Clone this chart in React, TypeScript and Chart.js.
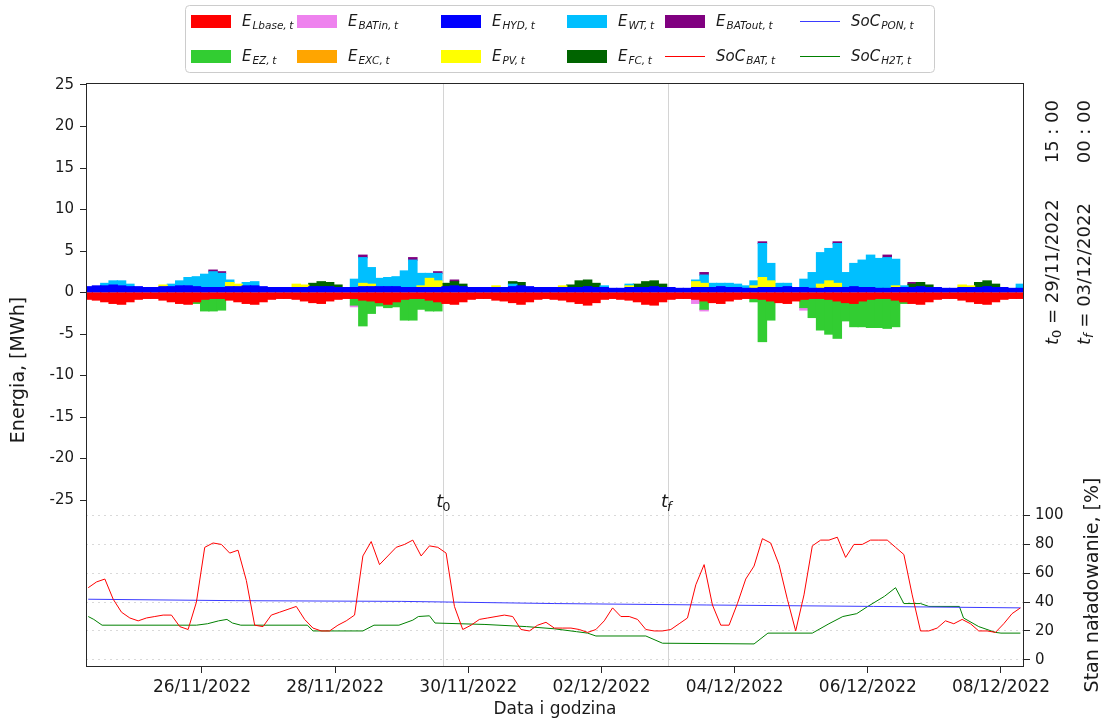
import React, { useEffect, useRef } from 'react';
import { Chart, registerables } from 'chart.js';

Chart.register(...registerables);

// Time axis: hours counted from 24/11/2022 00:00. Dense series are sampled every 3 h from 24/11 07:00.
const FIRST_HOUR = 7;
const STEP_HOURS = 3;

const xTickHours = [48, 96, 144, 192, 240, 288, 336];
const xTickLabels = ['26/11/2022', '28/11/2022', '30/11/2022', '02/12/2022', '04/12/2022', '06/12/2022', '08/12/2022'];
const yTicks = [-25, -20, -15, -10, -5, 0, 5, 10, 15, 20, 25];
const y2Ticks = [0, 20, 40, 60, 80, 100];

const t0Hour = 135; // 29/11/2022 15:00
const tfHour = 216; // 03/12/2022 00:00

// E_Lbase,t [MWh] (rows: days, samples at 01,04,07,10,13,16,19,22 h)
const eLbase = [
  -0.8, -0.9, -1.1, -1.3, -1.4, -1.1,
  -0.8, -0.7, -0.7, -0.9, -1.1, -1.3, -1.4, -1.1,
  -0.8, -0.7, -0.7, -0.9, -1.1, -1.3, -1.4, -1.1,
  -0.8, -0.7, -0.7, -0.8, -1.0, -1.2, -1.3, -1.0,
  -0.8, -0.7, -0.7, -0.9, -1.0, -1.2, -1.4, -1.1,
  -0.8, -0.7, -0.7, -0.9, -1.1, -1.3, -1.4, -1.1,
  -0.8, -0.7, -0.7, -0.9, -1.0, -1.2, -1.4, -1.1,
  -0.8, -0.7, -0.8, -0.9, -1.1, -1.3, -1.5, -1.2,
  -0.8, -0.7, -0.8, -0.9, -1.1, -1.4, -1.5, -1.1,
  -0.8, -0.7, -0.7, -0.8, -1.0, -1.2, -1.3, -1.0,
  -0.8, -0.7, -0.7, -0.8, -1.0, -1.2, -1.3, -1.0,
  -0.8, -0.7, -0.7, -0.8, -1.0, -1.2, -1.3, -1.0,
  -0.8, -0.7, -0.7, -0.9, -1.1, -1.3, -1.4, -1.1,
  -0.8, -0.7, -0.7, -0.9, -1.1, -1.3, -1.4, -1.1,
  -0.8, -0.7, -0.7,
];

// E_HYD,t [MWh]
const eHyd = [
  0.7, 0.8, 0.8, 0.9, 0.8, 0.7,
  0.7, 0.6, 0.6, 0.7, 0.7, 0.8, 0.8, 0.7,
  0.6, 0.6, 0.6, 0.7, 0.7, 0.8, 0.8, 0.7,
  0.6, 0.6, 0.6, 0.6, 0.6, 0.7, 0.7, 0.7,
  0.6, 0.6, 0.6, 0.7, 0.7, 0.7, 0.7, 0.7,
  0.6, 0.6, 0.6, 0.6, 0.6, 0.7, 0.8, 0.7,
  0.6, 0.6, 0.6, 0.6, 0.6, 0.7, 0.8, 0.7,
  0.6, 0.6, 0.6, 0.6, 0.6, 0.6, 0.7, 0.6,
  0.6, 0.5, 0.5, 0.6, 0.6, 0.6, 0.7, 0.6,
  0.6, 0.5, 0.5, 0.6, 0.6, 0.6, 0.7, 0.6,
  0.6, 0.5, 0.5, 0.6, 0.6, 0.6, 0.7, 0.6,
  0.6, 0.5, 0.5, 0.6, 0.6, 0.6, 0.7, 0.6,
  0.6, 0.5, 0.5, 0.6, 0.6, 0.6, 0.7, 0.6,
  0.6, 0.5, 0.5, 0.6, 0.6, 0.6, 0.7, 0.6,
  0.6, 0.5, 0.5,
];

// SoC_BAT,t [%]
const socBat = [
  50, 54, 56, 42, 33, 29,
  27, 29, 30, 31, 31, 23, 21, 40,
  78, 81, 80, 74, 76, 55, 24, 23,
  31, 33, 35, 37, 28, 22, 20, 20,
  24, 27, 31, 72, 82, 66, 72, 78,
  80, 83, 72, 79, 78, 74, 37, 21,
  24, 28, 29, 30, 31, 30, 21, 20,
  24, 26, 22, 22, 22, 21, 19, 21,
  27, 36, 30, 30, 28, 21, 20, 20,
  21, 25, 29, 52, 66, 38, 24, 24,
  39, 56, 65, 84, 81, 66, 42, 20,
  45, 79, 83, 83, 85, 71, 80, 80,
  83, 83, 83, 78, 73, 45, 20, 20,
  22, 27, 25, 28, 25, 20, 20, 19,
  25, 32, 36,
];

// Sparse series (hour, value) — only non-zero bars
const ezHours = [46, 49, 52, 55, 103, 106, 109, 112, 115, 118, 121, 124, 127, 130, 133, 229, 247, 250, 253, 265, 268, 271, 274, 277, 280, 283, 286, 289, 292, 295, 298, 301];
const ezValues = [-0.2, -1.4, -1.5, -1.4, -0.8, -3.1, -1.5, -0.4, -0.4, -0.6, -2.5, -2.6, -1.3, -1.3, -1.1, -1.0, -0.4, -5.1, -2.3, -1.0, -2.3, -3.8, -4.2, -4.5, -2.2, -2.8, -3.1, -3.4, -3.5, -3.6, -3.2, -0.2];

const batInHours = [103, 226, 229, 265];
const batInValues = [-0.2, -0.5, -0.2, -0.3];

const excHours: number[] = [];
const excValues: number[] = [];

const pvHours = [34, 58, 61, 82, 85, 106, 109, 127, 130, 133, 154, 178, 202, 226, 229, 247, 250, 253, 271, 274, 277, 298, 322, 325];
const pvValues = [0.2, 0.5, 0.3, 0.4, 0.3, 0.4, 0.3, 0.2, 1.1, 0.8, 0.2, 0.2, 0.2, 0.7, 0.5, 0.3, 1.2, 0.8, 0.5, 0.8, 0.5, 0.2, 0.3, 0.2];

const wtHours = [13, 16, 19, 22, 37, 40, 43, 46, 49, 52, 55, 58, 64, 67, 103, 106, 109, 112, 115, 118, 121, 124, 127, 130, 133, 160, 193, 202, 226, 229, 232, 235, 238, 241, 244, 247, 250, 253, 256, 259, 265, 268, 271, 274, 277, 280, 283, 286, 289, 292, 295, 298, 301, 343];
const wtValues = [0.3, 0.5, 0.6, 0.3, 0.3, 0.6, 1.0, 1.2, 1.6, 1.9, 1.7, 0.3, 0.4, 0.5, 1.0, 3.1, 2.0, 1.0, 1.1, 1.2, 2.0, 3.3, 1.5, 0.6, 0.9, 0.3, 0.2, 0.2, 0.2, 1.0, 0.5, 0.4, 0.5, 0.4, 0.3, 0.6, 4.1, 2.1, 0.5, 0.4, 1.0, 1.9, 3.8, 3.9, 4.8, 1.8, 2.8, 3.3, 3.9, 3.6, 3.7, 3.2, 0.2, 0.5];

const fcHours = [88, 91, 94, 97, 136, 139, 142, 160, 163, 181, 184, 187, 190, 205, 208, 211, 214, 304, 307, 310, 328, 331, 334];
const fcValues = [0.4, 0.6, 0.5, 0.3, 0.4, 0.5, 0.3, 0.3, 0.4, 0.3, 0.8, 0.8, 0.5, 0.4, 0.7, 0.7, 0.4, 0.4, 0.5, 0.3, 0.6, 0.7, 0.4];

const batOutHours = [52, 55, 106, 124, 133, 139, 229, 250, 277, 295, 304];
const batOutValues = [0.2, 0.2, 0.3, 0.3, 0.2, 0.2, 0.3, 0.2, 0.2, 0.3, 0.2];

const ponHours = [7, 60, 120, 175, 230, 290, 343];
const ponValues = [42, 41, 40.5, 39, 38, 37, 36];

const h2tHours = [7, 9, 12, 46, 50, 54, 57, 59, 62, 86, 88, 106, 110, 119, 124, 126, 130, 132, 150, 165, 175, 183, 187, 190, 208, 214, 247, 252, 268, 274, 279, 284, 288, 294, 298, 301, 307, 310, 321, 322.5, 328, 334, 336, 343];
const h2tValues = [30, 28, 24, 24, 25, 27, 28, 25.5, 24, 24, 20, 20, 24, 24, 27.5, 30, 30.5, 25.5, 24.5, 23, 21.5, 19.5, 18.5, 16.5, 16.5, 11.5, 11, 18.5, 18.5, 25, 30, 32, 37, 44, 50, 39, 39, 37, 37, 29, 23, 19, 18.5, 18.5];

const FONT = '"DejaVu Sans", sans-serif';
const TEXT = '#1a1a1a';

type LegendItem = { main: string; sub: string; color: string; kind: 'box' | 'line' };
// legend laid out column by column (2 rows x 6 columns)
const legendItems: LegendItem[] = [
  { main: 'E', sub: 'Lbase,t', color: '#ff0000', kind: 'box' },
  { main: 'E', sub: 'EZ,t', color: '#32cd32', kind: 'box' },
  { main: 'E', sub: 'BATin,t', color: '#ee82ee', kind: 'box' },
  { main: 'E', sub: 'EXC,t', color: '#ffa500', kind: 'box' },
  { main: 'E', sub: 'HYD,t', color: '#0000ff', kind: 'box' },
  { main: 'E', sub: 'PV,t', color: '#ffff00', kind: 'box' },
  { main: 'E', sub: 'WT,t', color: '#00bfff', kind: 'box' },
  { main: 'E', sub: 'FC,t', color: '#006400', kind: 'box' },
  { main: 'E', sub: 'BATout,t', color: '#800080', kind: 'box' },
  { main: 'SoC', sub: 'BAT,t', color: '#ff0000', kind: 'line' },
  { main: 'SoC', sub: 'PON,t', color: '#3b3bff', kind: 'line' },
  { main: 'SoC', sub: 'H2T,t', color: '#008000', kind: 'line' },
];
const legendColX = [191, 297, 441, 567, 665, 800];
const legendRowY = [21, 56];

function drawMath(ctx: CanvasRenderingContext2D, x: number, y: number, main: string, sub: string, size: number, subSize: number) {
  ctx.font = `italic ${size}px ${FONT}`;
  ctx.textAlign = 'left';
  ctx.textBaseline = 'alphabetic';
  ctx.fillText(main, x, y);
  const w = ctx.measureText(main).width;
  ctx.font = `italic ${subSize}px ${FONT}`;
  const parts = sub.split(',');
  ctx.fillText(parts[0] + ',', x + w + 1, y + size * 0.22);
  const w2 = ctx.measureText(parts[0] + ',').width;
  ctx.fillText(parts[1], x + w + 1 + w2 + subSize * 0.25, y + size * 0.22);
}

const overlayPlugin = {
  id: 'overlay',
  beforeDatasetsDraw(chart: any) {
    const { ctx, chartArea, scales } = chart;
    ctx.save();
    ctx.strokeStyle = '#d4d4d4';
    ctx.lineWidth = 1;
    for (const h of [t0Hour, tfHour]) {
      const x = Math.round(scales.x.getPixelForValue(h)) + 0.5;
      ctx.beginPath();
      ctx.moveTo(x, chartArea.top);
      ctx.lineTo(x, chartArea.bottom);
      ctx.stroke();
    }
    ctx.restore();
  },
  afterDraw(chart: any) {
    const { ctx, chartArea, scales } = chart;
    ctx.save();
    // frame
    ctx.strokeStyle = '#262626';
    ctx.lineWidth = 1;
    ctx.strokeRect(chartArea.left + 0.5, chartArea.top + 0.5, chartArea.right - chartArea.left - 1, chartArea.bottom - chartArea.top - 1);

    ctx.fillStyle = TEXT;
    // t0 / tf markers
    const ly = scales.y2.getPixelForValue(110);
    for (const [h, s] of [[t0Hour, '0'], [tfHour, 'f']] as [number, string][]) {
      const x = scales.x.getPixelForValue(h);
      ctx.font = `italic 18px ${FONT}`;
      ctx.textBaseline = 'alphabetic';
      ctx.textAlign = 'left';
      ctx.fillText('t', x - 7, ly + 6);
      ctx.font = `${s === 'f' ? 'italic ' : ''}13px ${FONT}`;
      ctx.fillText(s, x - 1, ly + 10);
    }

    // rotated annotations on the right
    const ann: [number, string, string][] = [
      [1053, '0', ' = 29/11/2022'],
      [1085, 'f', ' = 03/12/2022'],
    ];
    const annTime = ['15 : 00', '00 : 00'];
    ann.forEach(([cx, s, txt], i) => {
      ctx.save();
      ctx.translate(cx, 345);
      ctx.rotate(-Math.PI / 2);
      ctx.textBaseline = 'middle';
      ctx.textAlign = 'left';
      ctx.font = `italic 18px ${FONT}`;
      ctx.fillText('t', 0, 0);
      let w = ctx.measureText('t').width;
      ctx.font = `${s === 'f' ? 'italic ' : ''}13px ${FONT}`;
      ctx.fillText(s, w, 5);
      w += ctx.measureText(s).width;
      ctx.font = `18px ${FONT}`;
      ctx.fillText(txt, w, 0);
      ctx.textAlign = 'right';
      ctx.fillText(annTime[i], 245, 0);
      ctx.restore();
    });

    // axis titles
    ctx.textAlign = 'center';
    ctx.textBaseline = 'middle';
    ctx.font = `19px ${FONT}`;
    ctx.save();
    ctx.translate(19, 370);
    ctx.rotate(-Math.PI / 2);
    ctx.fillText('Energia, [MWh]', 0, 0);
    ctx.restore();
    ctx.save();
    ctx.translate(1093, 585);
    ctx.rotate(-Math.PI / 2);
    ctx.fillText('Stan naładowanie, [%]', 0, 0);
    ctx.restore();
    ctx.font = `17px ${FONT}`;
    ctx.fillText('Data i godzina', (chartArea.left + chartArea.right) / 2, 710);

    // legend
    ctx.fillStyle = 'rgba(255,255,255,0.85)';
    ctx.strokeStyle = '#cccccc';
    ctx.beginPath();
    ctx.roundRect(185.5, 5.5, 749, 67, 4);
    ctx.fill();
    ctx.stroke();
    legendItems.forEach((it, i) => {
      const col = Math.floor(i / 2);
      const row = i % 2;
      const x = legendColX[col];
      const y = legendRowY[row];
      if (it.kind === 'box') {
        ctx.fillStyle = it.color;
        ctx.fillRect(x, y - 6, 40, 13);
      } else {
        ctx.strokeStyle = it.color;
        ctx.lineWidth = 1;
        ctx.beginPath();
        ctx.moveTo(x, y + 0.5);
        ctx.lineTo(x + 40, y + 0.5);
        ctx.stroke();
      }
      ctx.fillStyle = TEXT;
      drawMath(ctx, x + 51, y + 5, it.main, it.sub, 15, 10.5);
    });
    ctx.restore();
  },
};

export default function App() {
  const canvasRef = useRef<HTMLCanvasElement | null>(null);

  useEffect(() => {
    const canvas = canvasRef.current;
    if (!canvas) return;
    const sampleHours = eLbase.map((_, i) => FIRST_HOUR + i * STEP_HOURS);
    const dense = (vals: number[]) => vals.map((v, i) => ({ x: sampleHours[i], y: v }));
    const sparse = (hs: number[], vs: number[]) => hs.map((h, i) => ({ x: h, y: vs[i] }));

    const bar = (label: string, data: any[], color: string) => ({
      type: 'bar' as const,
      label,
      data,
      backgroundColor: color,
      borderWidth: 0,
      barPercentage: 1,
      categoryPercentage: 1,
      inflateAmount: 0.6,
      xAxisID: 'x',
      yAxisID: 'y',
    });
    const line = (label: string, data: any[], color: string) => ({
      type: 'line' as const,
      label,
      data,
      borderColor: color,
      backgroundColor: color,
      borderWidth: 1,
      pointRadius: 0,
      tension: 0,
      fill: false,
      xAxisID: 'x',
      yAxisID: 'y2',
    });

    const chart = new Chart(canvas, {
      type: 'bar',
      data: {
        datasets: [
          bar('E_Lbase,t', dense(eLbase), '#ff0000'),
          bar('E_EZ,t', sparse(ezHours, ezValues), '#32cd32'),
          bar('E_BATin,t', sparse(batInHours, batInValues), '#ee82ee'),
          bar('E_EXC,t', sparse(excHours, excValues), '#ffa500'),
          bar('E_HYD,t', dense(eHyd), '#0000ff'),
          bar('E_PV,t', sparse(pvHours, pvValues), '#ffff00'),
          bar('E_WT,t', sparse(wtHours, wtValues), '#00bfff'),
          bar('E_FC,t', sparse(fcHours, fcValues), '#006400'),
          bar('E_BATout,t', sparse(batOutHours, batOutValues), '#800080'),
          line('SoC_BAT,t', dense(socBat), '#ff0000'),
          line('SoC_PON,t', sparse(ponHours, ponValues), '#3b3bff'),
          line('SoC_H2T,t', sparse(h2tHours, h2tValues), '#008000'),
        ] as any,
      },
      options: {
        animation: false,
        responsive: false,
        devicePixelRatio: 1,
        events: [],
        layout: { padding: { top: 83, left: 0, right: 0, bottom: 0 } },
        plugins: { legend: { display: false }, tooltip: { enabled: false }, title: { display: false } },
        scales: {
          x: {
            type: 'linear',
            min: 6.2,
            max: 344.3,
            stacked: true,
            offset: false,
            grid: { display: true, drawOnChartArea: false, drawTicks: true, tickLength: 6, tickColor: '#262626', offset: false },
            border: { display: false },
            afterBuildTicks: (s: any) => { s.ticks = xTickHours.map((v) => ({ value: v })); },
            afterFit: (s: any) => { s.height = 53; },
            ticks: {
              autoSkip: false,
              maxRotation: 0,
              padding: 4,
              color: TEXT,
              font: { family: FONT, size: 17 },
              callback: (v: any) => { const i = xTickHours.indexOf(Number(v)); return i >= 0 ? xTickLabels[i] : ''; },
            },
          },
          y: {
            type: 'linear',
            position: 'left',
            min: -45.1,
            max: 25.24,
            stacked: true,
            grid: { display: true, drawOnChartArea: false, drawTicks: true, tickLength: 6, tickColor: '#262626' },
            border: { display: false },
            afterBuildTicks: (s: any) => { s.ticks = yTicks.map((v) => ({ value: v })); },
            afterFit: (s: any) => { s.width = 86; },
            ticks: {
              padding: 6,
              color: TEXT,
              font: { family: FONT, size: 15 },
              callback: (v: any) => String(v),
            },
          },
          y2: {
            type: 'linear',
            position: 'right',
            min: -5,
            max: 400,
            grid: { display: true, drawOnChartArea: true, drawTicks: true, tickLength: 6, tickColor: '#262626', color: '#d9d9d9', lineWidth: 1 },
            border: { display: false, dash: [2, 4] },
            afterBuildTicks: (s: any) => { s.ticks = y2Ticks.map((v) => ({ value: v })); },
            afterFit: (s: any) => { s.width = 79; },
            ticks: {
              padding: 5,
              color: TEXT,
              font: { family: FONT, size: 15 },
            },
          },
        },
      } as any,
      plugins: [overlayPlugin],
    });
    return () => chart.destroy();
  }, []);

  return (
    <div style={{ position: 'fixed', left: 0, top: 0, width: 1103, height: 720, background: '#fff' }}>
      <canvas ref={canvasRef} width={1103} height={720} style={{ display: 'block' }} />
    </div>
  );
}
